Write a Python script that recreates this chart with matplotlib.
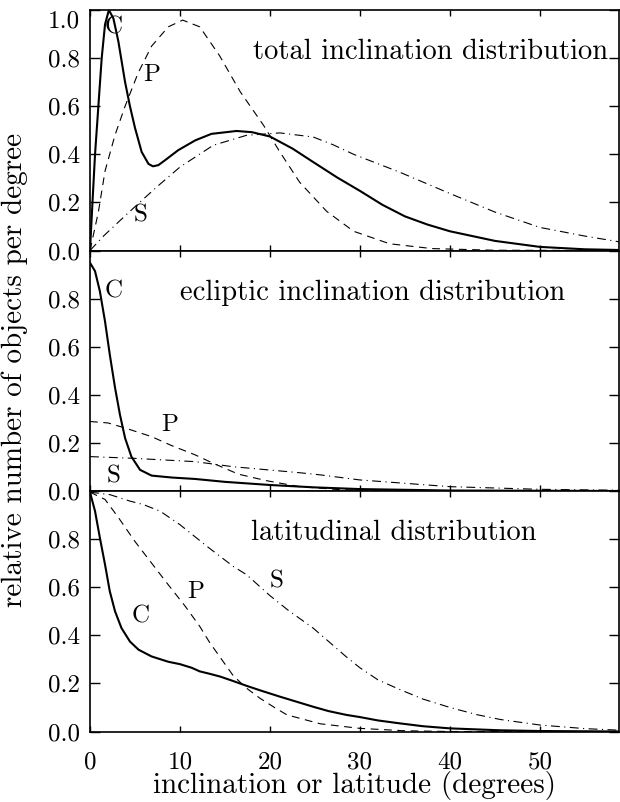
import matplotlib
matplotlib.use("Agg")
import matplotlib.pyplot as plt

# ---------------------------------------------------------------------
# Data (x in degrees, y relative number per degree)
# ---------------------------------------------------------------------
# total inclination distribution
tot_c_x = [0, 0.26, 0.56, 0.93, 1.3, 1.67, 2.1, 2.6, 3.15, 3.9, 4.44, 5.0, 5.74,
           6.5, 7.0, 7.6, 8.33, 9.8, 11.7, 13.5, 16.3, 18, 20, 22.5, 24.8, 27.5,
           30, 32.5, 35, 37.5, 40, 45, 50, 55, 59]
tot_c_y = [0, 0.19, 0.40, 0.60, 0.80, 0.94, 1.0, 0.965, 0.87, 0.70, 0.60, 0.51, 0.41,
           0.36, 0.35, 0.355, 0.375, 0.417, 0.458, 0.485, 0.497, 0.492, 0.474, 0.424,
           0.368, 0.303, 0.248, 0.19, 0.142, 0.108, 0.08, 0.04, 0.015, 0.005, 0.002]
tot_p_x = [0, 0.93, 1.67, 2.78, 3.9, 5.37, 6.85, 8.7, 10.3, 12.2, 14.4, 16.7, 19.3,
           21.1, 23.3, 26.3, 29.3, 33.3, 38, 45, 59]
tot_p_y = [0, 0.16, 0.33, 0.48, 0.60, 0.74, 0.85, 0.93, 0.958, 0.93, 0.81, 0.66, 0.52,
           0.41, 0.284, 0.163, 0.08, 0.028, 0.008, 0.001, 0]
tot_s_x = [0, 1.5, 3.15, 5.37, 7.6, 10, 13.7, 17.4, 21.1, 24.8, 27, 29.3, 34.4, 40, 45,
           50, 55, 59]
tot_s_y = [0, 0.06, 0.118, 0.195, 0.27, 0.347, 0.4375, 0.479, 0.489, 0.472, 0.44,
           0.40, 0.326, 0.237, 0.16, 0.096, 0.06, 0.035]

# ecliptic inclination distribution
ecl_c_x = [0, 0.56, 1.1, 1.67, 2.2, 2.78, 3.33, 3.9, 4.6, 5.56, 6.85, 9.1, 11.7, 15,
           20, 25, 30, 40, 59]
ecl_c_y = [0.949, 0.914, 0.83, 0.705, 0.567, 0.43, 0.317, 0.22, 0.143, 0.088, 0.064,
           0.056, 0.05, 0.038, 0.025, 0.015, 0.008, 0.002, 0]
ecl_p_x = [0, 2, 3.9, 6.85, 9, 11.7, 13.7, 16.5, 19.6, 23.3, 28, 35, 59]
ecl_p_y = [0.289, 0.283, 0.262, 0.226, 0.19, 0.15, 0.115, 0.07, 0.043, 0.018, 0.005,
           0.001, 0]
ecl_s_x = [0, 4.8, 11.7, 15.9, 23.3, 25.6, 30, 40, 50, 59]
ecl_s_y = [0.143, 0.136, 0.122, 0.101, 0.076, 0.067, 0.046, 0.018, 0.007, 0.003]

# latitudinal distribution
lat_c_x = [0, 0.56, 1.1, 1.67, 2.2, 2.78, 3.5, 4.44, 5.4, 6.85, 8.7, 10, 11.3, 12.2,
           13.3, 14.5, 15.9, 17.4, 19, 21.1, 23.3, 24.8, 26.5, 28.5, 30, 32, 34.4,
           37, 40, 45.6, 50, 59]
lat_c_y = [0.995, 0.916, 0.805, 0.694, 0.583, 0.5, 0.43, 0.374, 0.34, 0.312, 0.29,
           0.28, 0.265, 0.25, 0.24, 0.228, 0.21, 0.19, 0.17, 0.145, 0.12, 0.103, 0.085,
           0.069, 0.06, 0.046, 0.034, 0.022, 0.013, 0.005, 0.002, 0]
lat_p_x = [0, 1.67, 3.15, 5.0, 6.85, 8.7, 10.6, 12.2, 13.3, 15.9, 17.4, 18.9, 20.5,
           21.9, 25.6, 30, 35, 40, 59]
lat_p_y = [0.995, 0.965, 0.89, 0.79, 0.70, 0.61, 0.52, 0.437, 0.37, 0.233, 0.18, 0.138,
           0.1, 0.069, 0.032, 0.013, 0.003, 0, 0]
lat_s_x = [0, 2.2, 4.44, 5.9, 7.8, 10, 13, 15.9, 17.4, 20, 22, 24.8, 26.5, 28.5, 30,
           32, 34.4, 37, 40, 43, 45.6, 50, 55, 59]
lat_s_y = [0.995, 0.985, 0.958, 0.944, 0.916, 0.86, 0.77, 0.687, 0.652, 0.565, 0.505,
           0.43, 0.375, 0.31, 0.265, 0.215, 0.175, 0.135, 0.1, 0.07, 0.05, 0.027, 0.012,
           0.005]

panels = [
    dict(title="total inclination distribution", tx=18.1,
         c=(tot_c_x, tot_c_y), p=(tot_p_x, tot_p_y), s=(tot_s_x, tot_s_y),
         labels=[("C", 2.67, 0.927), ("P", 6.8, 0.729), ("S", 5.65, 0.146)]),
    dict(title="ecliptic inclination distribution", tx=10.0,
         c=(ecl_c_x, ecl_c_y), p=(ecl_p_x, ecl_p_y), s=(ecl_s_x, ecl_s_y),
         labels=[("C", 2.67, 0.83), ("P", 8.8, 0.275), ("S", 2.67, 0.06)]),
    dict(title="latitudinal distribution", tx=17.9,
         c=(lat_c_x, lat_c_y), p=(lat_p_x, lat_p_y), s=(lat_s_x, lat_s_y),
         labels=[("C", 5.65, 0.478), ("P", 11.7, 0.579), ("S", 20.7, 0.624)]),
]

# ---------------------------------------------------------------------
# Plot
# ---------------------------------------------------------------------
W, H = 620, 802
font = "cmr10"
fig = plt.figure(figsize=(W / 100, H / 100), dpi=100)

left, right = 90, 619
top0, ph = 10, 240.5

for i, pan in enumerate(panels):
    ytop = top0 + i * ph
    ax = fig.add_axes([left / W, 1 - (ytop + ph) / H, (right - left) / W, ph / H])
    ax.plot(*pan["c"], color="black", linewidth=1.5)
    ax.plot(*pan["p"], color="black", linewidth=0.8, linestyle=(0, (7, 5)))
    ax.plot(*pan["s"], color="black", linewidth=0.8, linestyle=(0, (8, 4, 1, 4)))
    ax.set_xlim(0, 58.8)
    ax.set_ylim(0, 1.0)

    ax.set_xticks([0, 10, 20, 30, 40, 50])
    ax.set_yticks([0, 0.2, 0.4, 0.6, 0.8, 1.0])
    ylabs = ["0.0", "0.2", "0.4", "0.6", "0.8", "1.0" if i == 0 else ""]
    ax.set_yticklabels(ylabs, fontfamily=font, fontsize=18)
    if i == 2:
        ax.set_xticklabels(["0", "10", "20", "30", "40", "50"], fontfamily=font, fontsize=18)
    else:
        ax.set_xticklabels([])
    ax.tick_params(axis="both", direction="in", top=True, right=True, width=1.0)
    ax.tick_params(axis="y", length=7.2, pad=7)
    ax.tick_params(axis="x", length=4, pad=14)
    if i == 0:
        ax.get_yticklabels()[-1].set_va("top")
    for sp in ax.spines.values():
        sp.set_linewidth(1.2)

    ax.text(pan["tx"], 0.796, pan["title"], fontfamily=font, fontsize=20.5,
            ha="left", va="baseline")
    for lab, lx, ly in pan["labels"]:
        ax.text(lx, ly, lab, fontfamily=font, fontsize=18, ha="center", va="center")

fig.text((left + right) / 2 / W, 1 - 793 / H, "inclination or latitude (degrees)",
         fontfamily=font, fontsize=21, ha="center", va="baseline")
fig.text(15 / W, 1 - 370 / H, "relative number of objects per degree",
         fontfamily=font, fontsize=21, ha="center", va="center", rotation=90)

fig.savefig("out.png", dpi=100)
